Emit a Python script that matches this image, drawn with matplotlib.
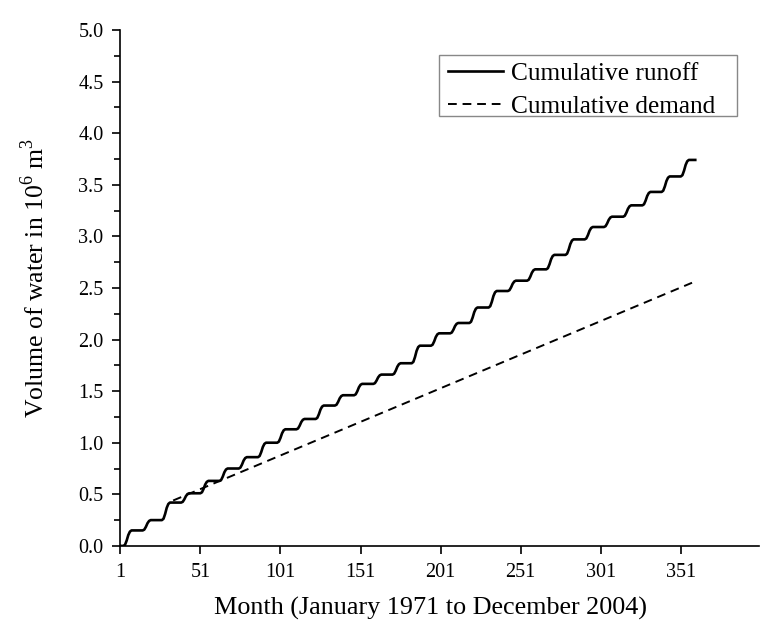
import matplotlib
matplotlib.use("Agg")
import matplotlib.pyplot as plt
import numpy as np
from matplotlib.patches import Rectangle
from matplotlib.ticker import MultipleLocator, FormatStrFormatter

plt.rcParams.update({
    "font.family": "Liberation Serif",
    "mathtext.fontset": "custom",
    "mathtext.rm": "Liberation Serif",
    "font.size": 14.5,
})

# cumulative runoff at the end of each year, 1971..2000 (10^6 m^3)
year_end_runoff = [0.15, 0.25, 0.42, 0.51, 0.63, 0.75, 0.86, 1.00, 1.13, 1.23,
                   1.36, 1.46, 1.57, 1.66, 1.77, 1.94, 2.06, 2.16, 2.31, 2.47,
                   2.57, 2.68, 2.82, 2.97, 3.09, 3.19, 3.30, 3.43, 3.58, 3.74]
# share of the yearly runoff falling in each calendar month (Jan..Dec)
monthly_share = [0.0, 0.0, 0.0, 0.08, 0.27, 0.35, 0.22, 0.08, 0.0, 0.0, 0.0, 0.0]

# cumulative demand (linear), read at its two ends
demand_months = [34, 358]
demand_values = [0.44, 2.55]

x_ticks = [1, 51, 101, 151, 201, 251, 301, 351]

# monthly cumulative runoff built from the yearly totals
yearly = np.diff(np.concatenate([[0.0], year_end_runoff]))
monthly = np.outer(yearly, monthly_share).ravel()
runoff = np.cumsum(monthly)
months = np.arange(1, len(runoff) + 1)

fig = plt.figure(figsize=(7.76, 6.43), dpi=100)
ax = fig.add_axes([0.155, 0.151, 0.8235, 0.8025])

ax.plot(months, runoff, color="black", linewidth=1.9,
        solid_joinstyle="round", label="Cumulative runoff")
ax.plot(demand_months, demand_values, color="black", linewidth=1.4,
        linestyle=(0, (4.5, 3)), label="Cumulative demand")

ax.set_xlim(1, 400)
ax.set_ylim(0, 5)
ax.set_xticks(x_ticks)
ax.yaxis.set_major_locator(MultipleLocator(0.5))
ax.yaxis.set_minor_locator(MultipleLocator(0.25))
ax.yaxis.set_major_formatter(FormatStrFormatter("%.1f"))

for side in ("top", "right"):
    ax.spines[side].set_visible(False)
for side in ("left", "bottom"):
    ax.spines[side].set_linewidth(1.2)
ax.tick_params(axis="both", which="major", direction="out", length=6, width=1.2,
               labelsize=14.5, pad=6)
ax.tick_params(axis="y", which="minor", direction="out", length=4, width=1.2)

ax.set_xlabel("Month (January 1971 to December 2004)", fontsize=18.8)
ax.xaxis.set_label_coords(0.485, -0.099)
ax.set_ylabel(r"Volume of water in 10$^{\mathrm{6}}$ m$^{\mathrm{3}}$",
              fontsize=18.5)
ax.yaxis.set_label_coords(-0.112, 0.52)

# legend content without its own frame; the box is wider than the text
leg = ax.legend(loc="upper left", bbox_to_anchor=(0.5055, 0.9476),
                borderaxespad=0, fontsize=18.3, frameon=False,
                handlelength=2.15, handletextpad=0.3, borderpad=0.2,
                labelspacing=0.4)
ax.add_patch(Rectangle((0.4992, 0.8333), 0.4664, 0.1183,
                       transform=ax.transAxes, fill=False,
                       edgecolor="#888888", linewidth=1.0, zorder=5))

fig.savefig("out.png", dpi=100)
